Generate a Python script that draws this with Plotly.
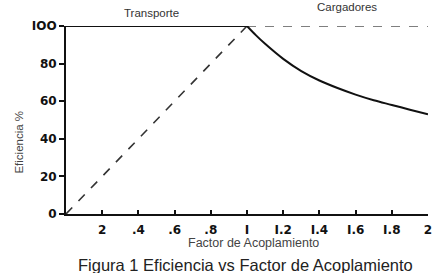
import plotly.graph_objects as go

# Data
transporte_x = [0, 1]
transporte_y = [100, 100]
diag_x = [0, 1]
diag_y = [0, 100]
cargadores_x = [1, 2]
cargadores_y = [100, 100]
curva_x = [1.0, 1.05, 1.1, 1.2, 1.3, 1.4, 1.5, 1.6, 1.7, 1.8, 1.9, 2.0]
curva_y = [100, 95, 90.5, 82.5, 76, 71, 67, 63.5, 60.5, 58, 55.5, 53]
x_ticks = [0.2, 0.4, 0.6, 0.8, 1.0, 1.2, 1.4, 1.6, 1.8, 2.0]
x_labels = ["2", ".4", ".6", ".8", "I", "I.2", "I.4", "I.6", "I.8", "2"]
y_ticks = [0, 20, 40, 60, 80, 100]
y_labels = ["0", "20", "40", "60", "80", "IOO"]

fig = go.Figure()
fig.add_trace(go.Scatter(x=diag_x, y=diag_y, mode="lines",
                         line=dict(color="#333", width=1.6, dash="dash"), cliponaxis=False))
fig.add_trace(go.Scatter(x=cargadores_x, y=cargadores_y, mode="lines",
                         line=dict(color="#555", width=1.4, dash="dash"), cliponaxis=False))
fig.add_trace(go.Scatter(x=transporte_x, y=transporte_y, mode="lines",
                         line=dict(color="#111", width=2.2), cliponaxis=False))
fig.add_trace(go.Scatter(x=curva_x, y=curva_y, mode="lines", line_shape="spline",
                         line=dict(color="#111", width=2, smoothing=1.0), cliponaxis=False))

tick_font = dict(size=12, family="DejaVu Sans", color="#111", weight="bold")

fig.update_layout(
    width=447, height=273,
    margin=dict(l=66, r=19, t=26, b=59),
    paper_bgcolor="white", plot_bgcolor="white",
    showlegend=False,
    font=dict(family="Liberation Sans, Arial, sans-serif", color="#222"),
    xaxis=dict(range=[0, 2], tickvals=x_ticks, ticktext=x_labels,
               showgrid=False, zeroline=False, showline=True, linecolor="#111", linewidth=2,
               ticks="inside", ticklen=4, tickwidth=1.5, tickcolor="#111", ticklabelstandoff=4,
               tickfont=tick_font),
    yaxis=dict(range=[0, 100], tickvals=y_ticks, ticktext=y_labels,
               showgrid=False, zeroline=False, showline=True, linecolor="#111", linewidth=2,
               ticks="outside", ticklen=5, tickwidth=1.5, tickcolor="#111",
               tickfont=tick_font),
    annotations=[
        dict(text="Transporte", x=0.475, y=1.0, xref="x", yref="paper", yanchor="middle", yshift=13,
             showarrow=False, font=dict(size=11.5, color="#333")),
        dict(text="Cargadores", x=1.555, y=1.0, xref="x", yref="paper", yanchor="middle", yshift=19,
             showarrow=False, font=dict(size=11.5, color="#333")),
        dict(text="Factor de Acoplamiento", x=1.035, y=0, xref="x", yref="paper",
             yanchor="middle", yshift=-29, showarrow=False, font=dict(size=12.5, color="#444")),
        dict(text="Eficiencia %", x=0, y=0.38, xref="paper", yref="paper", xanchor="center",
             yanchor="middle", xshift=-47, textangle=-90, showarrow=False,
             font=dict(size=11.5, color="#444")),
        dict(text="Figura 1 Eficiencia vs Factor de Acoplamiento", x=0.99, y=0, xref="x",
             yref="paper", xanchor="center", yanchor="middle", yshift=-51, showarrow=False,
             font=dict(size=16.5, color="#222")),
    ],
)
fig.write_html("out.html")
